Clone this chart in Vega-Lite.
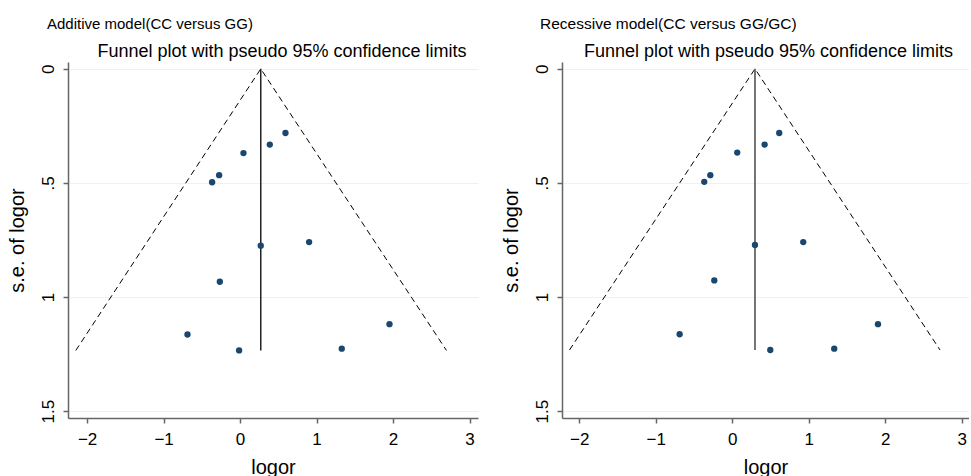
{
  "$schema": "https://vega.github.io/schema/vega-lite/v6.json",
  "background": "white",
  "padding": {"left": 7, "top": 16, "right": 0, "bottom": 0},
  "datasets": {
    "addPts": [
      {"logor": 0.593, "se": 0.281},
      {"logor": 0.388, "se": 0.332},
      {"logor": 0.044, "se": 0.369},
      {"logor": -0.274, "se": 0.466},
      {"logor": -0.366, "se": 0.497},
      {"logor": 0.27, "se": 0.775},
      {"logor": 0.902, "se": 0.759},
      {"logor": -0.265, "se": 0.933},
      {"logor": -0.688, "se": 1.164},
      {"logor": -0.013, "se": 1.234},
      {"logor": 1.329, "se": 1.226},
      {"logor": 1.953, "se": 1.119}
    ],
    "addFunnel": [
      {"k": 1, "logor": -2.148, "se": 1.234},
      {"k": 2, "logor": 0.27, "se": 0},
      {"k": 3, "logor": 2.698, "se": 1.234}
    ],
    "addMid": [{"logor": 0.27, "se0": 0, "se1": 1.234}],
    "recPts": [
      {"logor": 0.614, "se": 0.281},
      {"logor": 0.423, "se": 0.332},
      {"logor": 0.065, "se": 0.367},
      {"logor": -0.287, "se": 0.466},
      {"logor": -0.366, "se": 0.495},
      {"logor": 0.297, "se": 0.772},
      {"logor": 0.928, "se": 0.759},
      {"logor": -0.235, "se": 0.927},
      {"logor": -0.688, "se": 1.163},
      {"logor": 0.497, "se": 1.232},
      {"logor": 1.333, "se": 1.226},
      {"logor": 1.905, "se": 1.119}
    ],
    "recFunnel": [
      {"k": 1, "logor": -2.128, "se": 1.232},
      {"k": 2, "logor": 0.297, "se": 0},
      {"k": 3, "logor": 2.716, "se": 1.232}
    ],
    "recMid": [{"logor": 0.297, "se0": 0, "se1": 1.232}]
  },
  "config": {
    "font": "Liberation Sans",
    "view": {"stroke": null},
    "concat": {"spacing": 23},
    "title": {"color": "#000", "fontWeight": "normal", "font": "Liberation Sans"},
    "axis": {
      "domainColor": "#666",
      "domainWidth": 1.5,
      "tickColor": "#666",
      "tickWidth": 1.5,
      "tickSize": 5,
      "labelFont": "Liberation Sans",
      "labelFontSize": 17,
      "labelColor": "#000",
      "titleFont": "Liberation Sans",
      "titleFontSize": 20,
      "titleFontWeight": "normal",
      "titleColor": "#000",
      "gridColor": "#eaf2f3",
      "gridWidth": 1
    }
  },
  "hconcat": [
    {
      "title": {"text": "Additive model(CC versus GG)", "anchor": "start", "fontSize": 15, "dx": 40, "offset": 11},
      "vconcat": [
        {
          "title": {"text": "Funnel plot with pseudo 95% confidence limits", "anchor": "middle", "fontSize": 18, "dx": 9, "offset": 1},
          "width": 410,
          "height": 356,
          "encoding": {
            "x": {"field": "logor", "type": "quantitative",
                  "scale": {"domain": [-2.25, 3.11], "nice": false, "zero": false},
                  "axis": {"values": [-2, -1, 0, 1, 2, 3], "grid": false, "title": "logor", "labelPadding": 8, "titlePadding": 10}},
            "y": {"field": "se", "type": "quantitative",
                  "scale": {"domain": [-0.03, 1.53], "nice": false, "zero": false, "reverse": true},
                  "axis": {"values": [0, 0.5, 1, 1.5], "grid": true, "title": "s.e. of logor", "labelAngle": -90, "labelAlign": "center", "labelBaseline": "bottom", "labelPadding": 6, "titlePadding": 12,
                           "labelExpr": "datum.value == 0 ? '0' : datum.value == 0.5 ? '.5' : datum.value == 1 ? '1' : '1.5'"}}
          },
          "layer": [
            {"data": {"name": "addFunnel"}, "mark": {"type": "line", "color": "#000", "strokeWidth": 1, "strokeDash": [6, 4]},
             "encoding": {"order": {"field": "k", "type": "quantitative"}}},
            {"data": {"name": "addMid"}, "mark": {"type": "rule", "color": "#222", "strokeWidth": 1.5},
             "encoding": {"y": {"field": "se0", "type": "quantitative"}, "y2": {"field": "se1"}}},
            {"data": {"name": "addPts"}, "mark": {"type": "circle", "color": "#1a476f", "opacity": 1, "size": 40}}
          ]
        }
      ]
    },
    {
      "title": {"text": "Recessive model(CC versus GG/GC)", "anchor": "start", "fontSize": 15.5, "dx": 39, "offset": 11},
      "vconcat": [
        {
          "title": {"text": "Funnel plot with pseudo 95% confidence limits", "anchor": "middle", "fontSize": 18, "dx": 3, "offset": 1},
          "width": 407,
          "height": 356,
          "encoding": {
            "x": {"field": "logor", "type": "quantitative",
                  "scale": {"domain": [-2.226, 3.095], "nice": false, "zero": false},
                  "axis": {"values": [-2, -1, 0, 1, 2, 3], "grid": false, "title": "logor", "labelPadding": 8, "titlePadding": 10}},
            "y": {"field": "se", "type": "quantitative",
                  "scale": {"domain": [-0.03, 1.53], "nice": false, "zero": false, "reverse": true},
                  "axis": {"values": [0, 0.5, 1, 1.5], "grid": true, "title": "s.e. of logor", "labelAngle": -90, "labelAlign": "center", "labelBaseline": "bottom", "labelPadding": 6, "titlePadding": 12,
                           "labelExpr": "datum.value == 0 ? '0' : datum.value == 0.5 ? '.5' : datum.value == 1 ? '1' : '1.5'"}}
          },
          "layer": [
            {"data": {"name": "recFunnel"}, "mark": {"type": "line", "color": "#000", "strokeWidth": 1, "strokeDash": [6, 4]},
             "encoding": {"order": {"field": "k", "type": "quantitative"}}},
            {"data": {"name": "recMid"}, "mark": {"type": "rule", "color": "#666", "strokeWidth": 1.8},
             "encoding": {"y": {"field": "se0", "type": "quantitative"}, "y2": {"field": "se1"}}},
            {"data": {"name": "recPts"}, "mark": {"type": "circle", "color": "#1a476f", "opacity": 1, "size": 40}}
          ]
        }
      ]
    }
  ]
}
